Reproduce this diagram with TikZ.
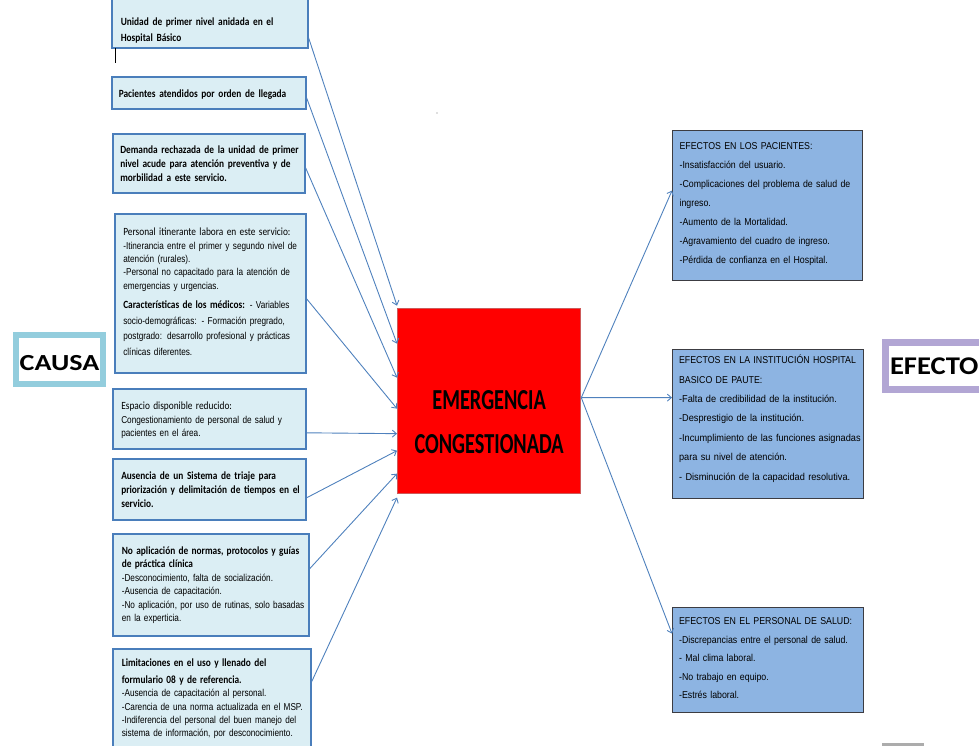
\documentclass[tikz,border=0pt]{standalone}
\usepackage{fontspec}
\usetikzlibrary{arrows.meta}
\newfontfamily\fLB[FakeStretch=0.85]{Carlito}
\newfontfamily\fLN[FakeStretch=0.82]{Liberation Sans}
\newfontfamily\fRN[FakeStretch=0.88]{Liberation Sans}
\newfontfamily\fRW[FakeStretch=0.92]{Liberation Sans}
\newfontfamily\fCen[FakeStretch=0.70]{Carlito}
\newfontfamily\fCau[FakeStretch=1.22]{Carlito}
\newfontfamily\fEfe[FakeStretch=1.12]{Carlito}
\newcommand{\jline}[1]{\makebox[\linewidth][s]{#1}}
\newcommand{\tbold}[1]{{\fLB\bfseries\fontsize{11}{11}\selectfont #1}}
\newcommand{\treg}[1]{{\fLB\fontsize{11}{11}\selectfont #1}}
\definecolor{lfill}{RGB}{219,238,244}
\definecolor{lline}{RGB}{74,126,187}
\definecolor{rfill}{RGB}{141,180,226}
\definecolor{rline}{RGB}{60,60,66}
\definecolor{redline}{RGB}{205,90,90}
\definecolor{arrc}{RGB}{79,129,189}
\definecolor{causac}{RGB}{147,205,221}
\definecolor{efectoc}{RGB}{178,166,212}
\tikzset{
  lbox/.style={draw=lline, line width=1.6pt, fill=lfill, anchor=north west, inner ysep=0pt, align=left},
  rbox/.style={draw=rline, line width=1.2pt, fill=rfill, anchor=north west, inner ysep=0pt, align=left},
  redbox/.style={draw=redline, line width=1.3pt, fill=red, anchor=north west, inner ysep=0pt, inner xsep=0pt, align=center},
  causabox/.style={draw=causac, line width=6pt, fill=white, anchor=north west, inner ysep=0pt, inner xsep=0pt, align=center},
  efectobox/.style={draw=efectoc, line width=7pt, fill=white, anchor=north west, inner ysep=0pt, align=left},
  arr/.style={draw=arrc, line width=0.9pt, -{Straight Barb[length=4pt,width=7pt]}},
  fbold/.style={font=\fLB\bfseries\fontsize{11}{#1}\selectfont},
  fbody/.style={font=\fLN\fontsize{10}{#1}\selectfont}
}
\begin{document}
\begin{tikzpicture}[x=1pt,y=-1pt]
\useasboundingbox (0,0) rectangle (979,745);

% left cause boxes
\node[lbox, fbold=15.5, text width=178pt, inner xsep=9pt, text height=29pt, text depth=22pt] (L1) at (111,-4)
  {Unidad de primer nivel anidada en el\\Hospital Básico};
\node[lbox, fbold=14, text width=180pt, inner xsep=7pt, text height=20.5pt, text depth=11.5pt] (L2) at (111,76)
  {Pacientes atendidos por orden de llegada};
\node[lbox, fbold=14, text width=177pt, inner xsep=7.5pt, text height=19.5pt, text depth=39.5pt] (L3) at (112,133)
  {\jline{Demanda rechazada de la unidad de primer}\\\jline{nivel acude para atención preventiva y de}\\morbilidad a este servicio.};
\node[lbox, fbody=13.3, text width=174pt, inner xsep=8.5pt, text height=22pt, text depth=137pt] (L4) at (114,213)
  {\jline{\treg{Personal itinerante labora en este servicio:}}\\
   \jline{-Itinerancia entre el primer y segundo nivel de}\\
   atención (rurales).\\
   \jline{-Personal no capacitado para la atención de}\\
   emergencias y urgencias.\\[6pt]
   \jline{\tbold{Características de los médicos:} - Variables}\\[2.4pt]
   \jline{socio-demográficas: - Formación pregrado,}\\[2.4pt]
   \jline{postgrado: desarrollo profesional y prácticas}\\[2.4pt]
   clínicas diferentes.};
\node[lbox, fbody=13.5, text width=176pt, inner xsep=8.5pt, text height=21pt, text depth=39pt] (L5) at (112,388)
  {\treg{Espacio disponible reducido:}\\
   \jline{Congestionamiento de personal de salud y}\\
   pacientes en el área.};
\node[lbox, fbold=14, text width=176pt, inner xsep=8.5pt, text height=21pt, text depth=40pt] (L6) at (112,458)
  {\jline{Ausencia de un Sistema de triaje para}\\\jline{priorización y delimitación de tiempos en el}\\servicio.};
\node[lbox, fbody=13.5, text width=178pt, inner xsep=9pt, text height=20.5pt, text depth=81.5pt] (L7) at (112,533)
  {\jline{\tbold{No aplicación de normas, protocolos y guías}}\\
   \tbold{de práctica clínica}\\
   -Desconocimiento, falta de socialización.\\
   -Ausencia de capacitación.\\
   \jline{-No aplicación, por uso de rutinas, solo basadas}\\
   en la experticia.};
\node[lbox, fbody=13.3, text width=180pt, inner xsep=9pt, text height=18pt, text depth=100pt] (L8) at (112,648)
  {\tbold{Limitaciones en el uso y llenado del}\\[3.5pt]
   \tbold{formulario 08 y de referencia.}\\
   -Ausencia de capacitación al personal.\\
   \jline{-Carencia de una norma actualizada en el MSP.}\\
   \jline{-Indiferencia del personal del buen manejo del}\\
   sistema de información, por desconocimiento.};

% central problem
\node[redbox, font=\fCen\bfseries\fontsize{29}{44}\selectfont, text width=183pt, text height=101pt, text depth=84pt] (E) at (397,308)
  {EMERGENCIA\\CONGESTIONADA};

% effect boxes
\node[rbox, font=\fRN\fontsize{10}{19}\selectfont, text width=176pt, inner xsep=7pt, text height=18.5pt, text depth=131.5pt] (R1) at (672,130)
  {EFECTOS EN LOS PACIENTES:\\
   -Insatisfacción del usuario.\\
   \jline{-Complicaciones del problema de salud de}\\
   ingreso.\\
   -Aumento de la Mortalidad.\\
   -Agravamiento del cuadro de ingreso.\\
   -Pérdida de confianza en el Hospital.};
\node[rbox, font=\fRW\fontsize{10}{19.4}\selectfont, text width=178pt, inner xsep=6.5pt, text height=14pt, text depth=135pt] (R2) at (672,349)
  {{\fRN EFECTOS EN LA INSTITUCIÓN HOSPITAL}\\
   {\fRN BASICO DE PAUTE:}\\
   -Falta de credibilidad de la institución.\\
   -Desprestigio de la institución.\\
   \jline{-Incumplimiento de las funciones asignadas}\\
   para su nivel de atención.\\
   - Disminución de la capacidad resolutiva.};
\node[rbox, font=\fRN\fontsize{10}{18.5}\selectfont, text width=178pt, inner xsep=6.5pt, text height=17pt, text depth=88pt] (R3) at (672,607)
  {EFECTOS EN EL PERSONAL DE SALUD:\\
   -Discrepancias entre el personal de salud.\\
   - Mal clima laboral.\\
   -No trabajo en equipo.\\
   -Estrés laboral.};

% side labels
\node[causabox, font=\fCau\bfseries\fontsize{23}{23}\selectfont, text width=87pt, text height=35pt, text depth=14pt] (CA) at (13,332) {CAUSA};
\node[efectobox, font=\fEfe\bfseries\fontsize{25.5}{25.5}\selectfont, text width=130pt, inner xsep=5pt, text height=32.5pt, text depth=14.5pt] (EF) at (881.5,338.5) {EFECTO};

% connectors causes -> problem
\draw[arr] ([yshift=-15.5pt]L1.east) -- ([yshift=95.5pt]E.west);
\draw[arr] ([yshift=-5pt]L2.east) -- ([yshift=57.5pt]E.west);
\draw[arr] ([yshift=-4.5pt]L3.east) -- ([yshift=23.5pt]E.west);
\draw[arr] ([yshift=-5.5pt]L4.east) -- ([yshift=-7.5pt]E.west);
\draw[arr] ([yshift=-14pt]L5.east) -- ([yshift=-32.5pt]E.west);
\draw[arr] ([yshift=-8.5pt]L6.east) -- ([yshift=-49.5pt]E.west);
\draw[arr] ([yshift=16pt]L7.east) -- ([yshift=-72.5pt]E.west);
\draw[arr] ([yshift=26pt]L8.east) -- ([yshift=-96.5pt]E.west);

% connectors problem -> effects
\draw[arr] ([yshift=3.5pt]E.east) -- ([yshift=15pt]R1.west);
\draw[arr] ([yshift=3.5pt]E.east) -- ([yshift=26.5pt]R2.west);
\draw[arr] ([yshift=3.5pt]E.east) -- ([yshift=26.5pt]R3.west);

% small marks
\draw[black, line width=0.8pt] (115,48) -- (115,63);
\fill[black!55] (437,113) circle (0.7);
\fill[gray!65] (882,742.5) rectangle (924,746);
\end{tikzpicture}
\end{document}
